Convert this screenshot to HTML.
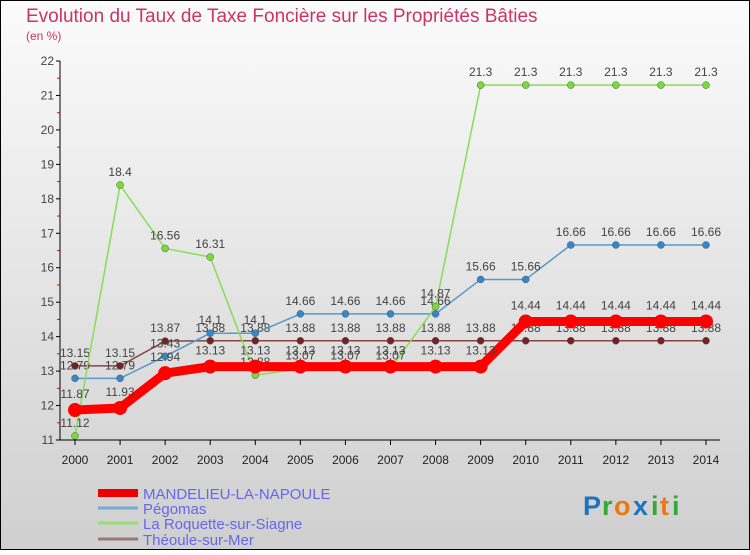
<!DOCTYPE html>
<html><head><meta charset="utf-8"><style>
html,body{margin:0;padding:0}
body{width:750px;height:550px;overflow:hidden;font-family:"Liberation Sans",sans-serif}
</style></head><body>
<svg id="chart" width="750" height="550" xmlns="http://www.w3.org/2000/svg">
<defs><linearGradient id="bg" x1="0" y1="0" x2="0" y2="1"><stop offset="0" stop-color="#fbfbfb"/><stop offset="1" stop-color="#cfcfcf"/></linearGradient></defs>
<rect x="0.5" y="0.5" width="749" height="549" fill="url(#bg)" stroke="#000"/>
<text x="26" y="22" font-size="19" fill="#cc3366">Evolution du Taux de Taxe Foncière sur les Propriétés Bâties</text>
<text x="26" y="40" font-size="12" fill="#cc3366">(en %)</text>
<g id="axes"></g><g id="series"></g><g id="legend"></g>
<g font-size="27" font-weight="bold" font-family="'Liberation Sans',sans-serif">
<text x="583" y="515" fill="#1e73be">P</text><text x="602" y="515" fill="#33aa33">r</text><text x="614" y="515" fill="#ee7711">o</text><text x="633" y="515" fill="#1e73be">x</text><text x="651" y="515" fill="#33aa33">i</text><text x="660" y="515" fill="#ee7711">t</text><text x="672" y="515" fill="#33aa33">i</text>
</g>
</svg>
<script>
const years=[2000,2001,2002,2003,2004,2005,2006,2007,2008,2009,2010,2011,2012,2013,2014];
const yTicks=[11,12,13,14,15,16,17,18,19,20,21,22];
const mandelieu=[11.87,11.93,12.94,13.13,13.13,13.13,13.13,13.13,13.13,13.13,14.44,14.44,14.44,14.44,14.44];
const pegomas=[12.79,12.79,13.43,14.1,14.1,14.66,14.66,14.66,14.66,15.66,15.66,16.66,16.66,16.66,16.66];
const roquette=[11.12,18.4,16.56,16.31,12.88,13.07,13.07,13.07,14.87,21.3,21.3,21.3,21.3,21.3,21.3];
const theoule=[13.15,13.15,13.87,13.88,13.88,13.88,13.88,13.88,13.88,13.88,13.88,13.88,13.88,13.88,13.88];
const seriesNames=["MANDELIEU-LA-NAPOULE","Pégomas","La Roquette-sur-Siagne","Théoule-sur-Mer"];
const NS="http://www.w3.org/2000/svg";
const x=i=>75+i*(706-75)/(years.length-1);
const y=v=>440-(v-11)*(440-61)/11;
function mk(tag,attrs,parent,txt){const e=document.createElementNS(NS,tag);for(const k in attrs)e.setAttribute(k,attrs[k]);if(txt!==undefined)e.textContent=txt;parent.appendChild(e);return e;}
const axes=document.getElementById('axes');
const ya=mk('line',{x1:60,y1:y(22),x2:60,y2:y(11),stroke:'#000'},axes);

const xa=mk('line',{x1:60,y1:y(11),x2:720,y2:y(11),stroke:'#000'},axes);

yTicks.forEach(t=>{
  mk('line',{x1:56,y1:y(t),x2:60,y2:y(t),stroke:'#000'},axes);
  if(t<22) mk('line',{x1:57,y1:y(t+0.5),x2:60,y2:y(t+0.5),stroke:'#e00'},axes);
  const l=mk('text',{x:54,y:y(t)+4,'font-size':12,'text-anchor':'end',fill:'#444'},axes,t);
  
});
years.forEach((yr,i)=>{
  mk('line',{x1:x(i),y1:y(11),x2:x(i),y2:y(11)+5,stroke:'#000'},axes);
  const l=mk('text',{x:x(i),y:464,'font-size':12,'text-anchor':'middle',fill:'#222'},axes,yr);
  
});
const sg=document.getElementById('series');
const defs=[
 {d:theoule,c:'#884444',w:1.5,r:3.5,f:'#772222',name:'series-theoule'},
 {d:pegomas,c:'#5599cc',w:1.5,r:3.5,f:'#3388cc',name:'series-pegomas'},
 {d:roquette,c:'#88dd55',w:1.5,r:3.5,f:'#77dd33',name:'series-roquette'},
 {d:mandelieu,c:'#ff0000',w:9,r:7,f:'#ff0000',name:'series-mandelieu'}
];
defs.forEach(s=>{
  const g=mk('g',{},sg);
  
  mk('polyline',{points:s.d.map((v,i)=>x(i)+','+y(v)).join(' '),fill:'none',stroke:s.c,'stroke-width':s.w,'stroke-linejoin':'round'},g);
  s.d.forEach((v,i)=>{
    const p=mk('circle',{cx:x(i),cy:y(v),r:s.r,fill:s.f,stroke:s.w>5?'none':'#555','stroke-width':0.5},g);
    
    const t=mk('text',{x:x(i),y:y(v)-9-(s.w>5?3:0),'font-size':12,'text-anchor':'middle',fill:'#444'},g,String(v));
    
  });
});
const lg=document.getElementById('legend');
const lc=['#ee0000','#77aacc','#99dd77','#997777'],lw=[8,3,3,3],ly=[493,508,523,539];
seriesNames.forEach((n,i)=>{
  const e=mk('g',{},lg);
  
  mk('line',{x1:98,y1:ly[i],x2:138,y2:ly[i],stroke:lc[i],'stroke-width':lw[i]},e);
  mk('text',{x:143,y:ly[i]+6,'font-size':15,fill:'#6666ee'},e,n);
});
</script>
</body></html>
